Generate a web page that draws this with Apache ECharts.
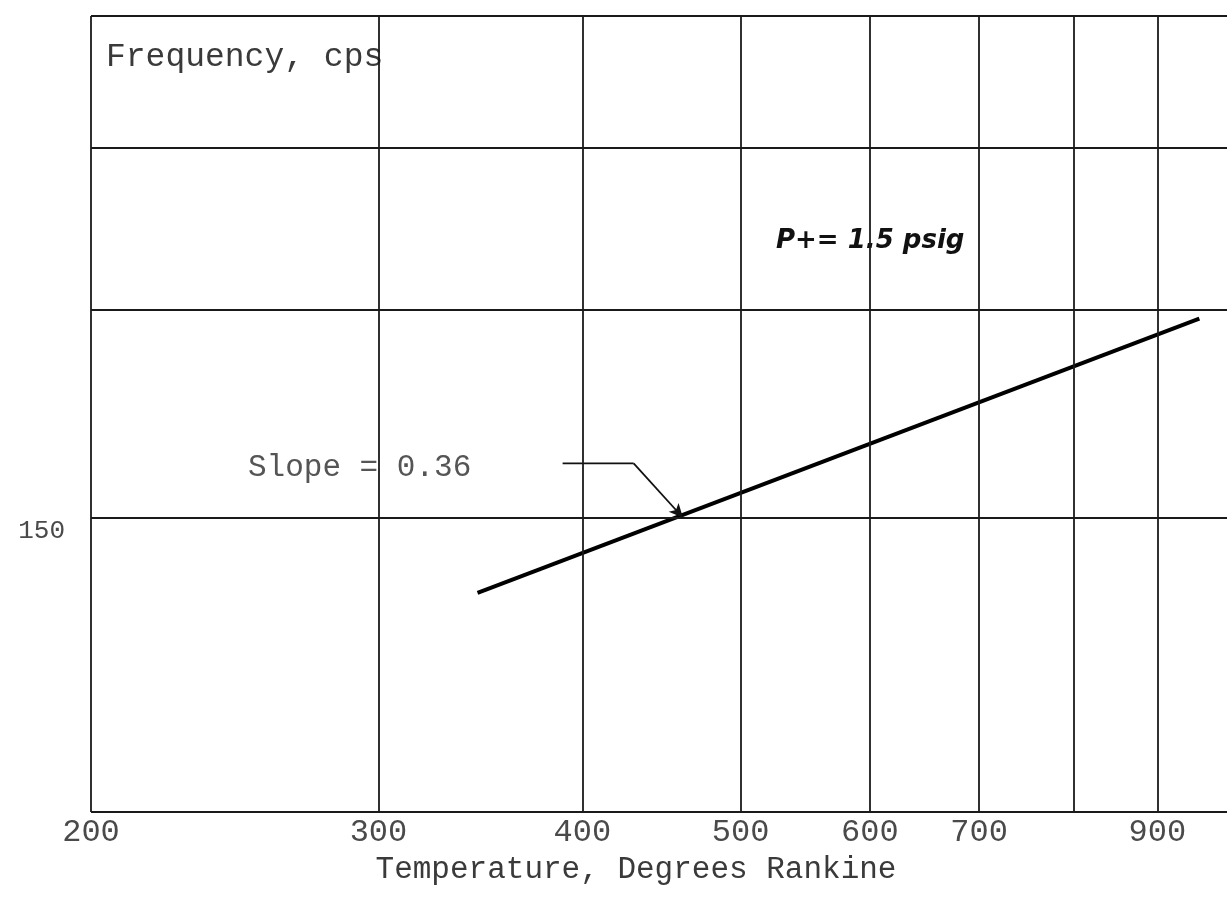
<!DOCTYPE html>
<html>
<head>
<meta charset="utf-8">
<script src="https://cdn.jsdelivr.net/npm/echarts@6/dist/echarts.min.js"></script>
<style>html,body{margin:0;padding:0;background:#fff;}#c{width:1227px;height:911px;}</style>
</head>
<body>
<div id="c"></div>
<script>
// Data
const xGridValues = [200, 300, 400, 500, 600, 700, 800, 900];
const xLabelValues = [200, 300, 400, 500, 600, 700, 900];
const yGridValues = [100, 150, 200, 250, 300];
const yLabelValues = [150];
const temperature = [345, 955];
const frequency = [135.3, 197.6];
const slopeLeader = [[389, 161.8], [430, 161.8], [461, 150.1]];

const chart = echarts.init(document.getElementById('c'), null, {renderer: 'canvas'});
const mono = '"Liberation Mono", "DejaVu Sans Mono", monospace';
const gridStyle = {color: '#1a1a1a', width: 1.8, type: 'solid'};

const option = {
  backgroundColor: '#ffffff',
  animation: false,
  grid: {left: 91, top: 16, right: 0, height: 796},
  xAxis: {
    type: 'log', logBase: 10, min: 200, max: 993,
    axisLine: {show: false}, axisTick: {show: false}, splitLine: {show: false},
    axisLabel: {
      customValues: xLabelValues, margin: 5,
      fontFamily: mono, fontSize: 32, color: '#4a4a4a'
    },
    name: 'Temperature, Degrees Rankine', nameLocation: 'middle', nameGap: 30,
    nameTextStyle: {fontFamily: mono, fontSize: 31, color: '#3a3a3a', padding: [0, 46, 0, 0]}
  },
  yAxis: {
    type: 'log', logBase: 10, min: 100, max: 300,
    axisLine: {show: false}, axisTick: {show: false}, splitLine: {show: false},
    axisLabel: {
      customValues: yLabelValues, margin: 26, verticalAlign: 'top',
      fontFamily: mono, fontSize: 26, color: '#4a4a4a'
    }
  },
  series: [
    {
      type: 'line', name: 'grid', data: [], silent: true,
      markLine: {
        silent: true, symbol: 'none', label: {show: false},
        lineStyle: gridStyle,
        data: xGridValues.map(v => ({xAxis: v})).concat(yGridValues.map(v => ({yAxis: v})))
      }
    },
    {
      type: 'line', name: 'Frequency',
      data: temperature.map((t, i) => [t, frequency[i]]),
      showSymbol: false, symbol: 'none',
      lineStyle: {color: '#000', width: 4}
    },
    {
      type: 'line', name: 'leader',
      data: slopeLeader.slice(0, 2),
      showSymbol: false, symbol: 'none',
      lineStyle: {color: '#111', width: 1.8},
      markLine: {
        silent: true, symbol: ['none', 'arrow'], symbolSize: [10, 14],
        label: {show: false},
        lineStyle: {color: '#111', width: 1.8, type: 'solid'},
        data: [[{coord: slopeLeader[1]}, {coord: slopeLeader[2]}]]
      }
    }
  ],
  graphic: [
    {type: 'text', left: 106, top: 41, style: {text: 'Frequency, cps', font: '33px ' + mono, fill: '#3a3a3a'}},
    {type: 'text', left: 248, top: 452, style: {text: 'Slope = 0.36', font: '31px ' + mono, fill: '#555'}},
    {type: 'text', left: 776, top: 228, style: {text: 'P+= 1.5 psig', font: 'italic 600 26px "DejaVu Sans", sans-serif', fill: '#111'}}
  ]
};
chart.setOption(option);
</script>
</body>
</html>
